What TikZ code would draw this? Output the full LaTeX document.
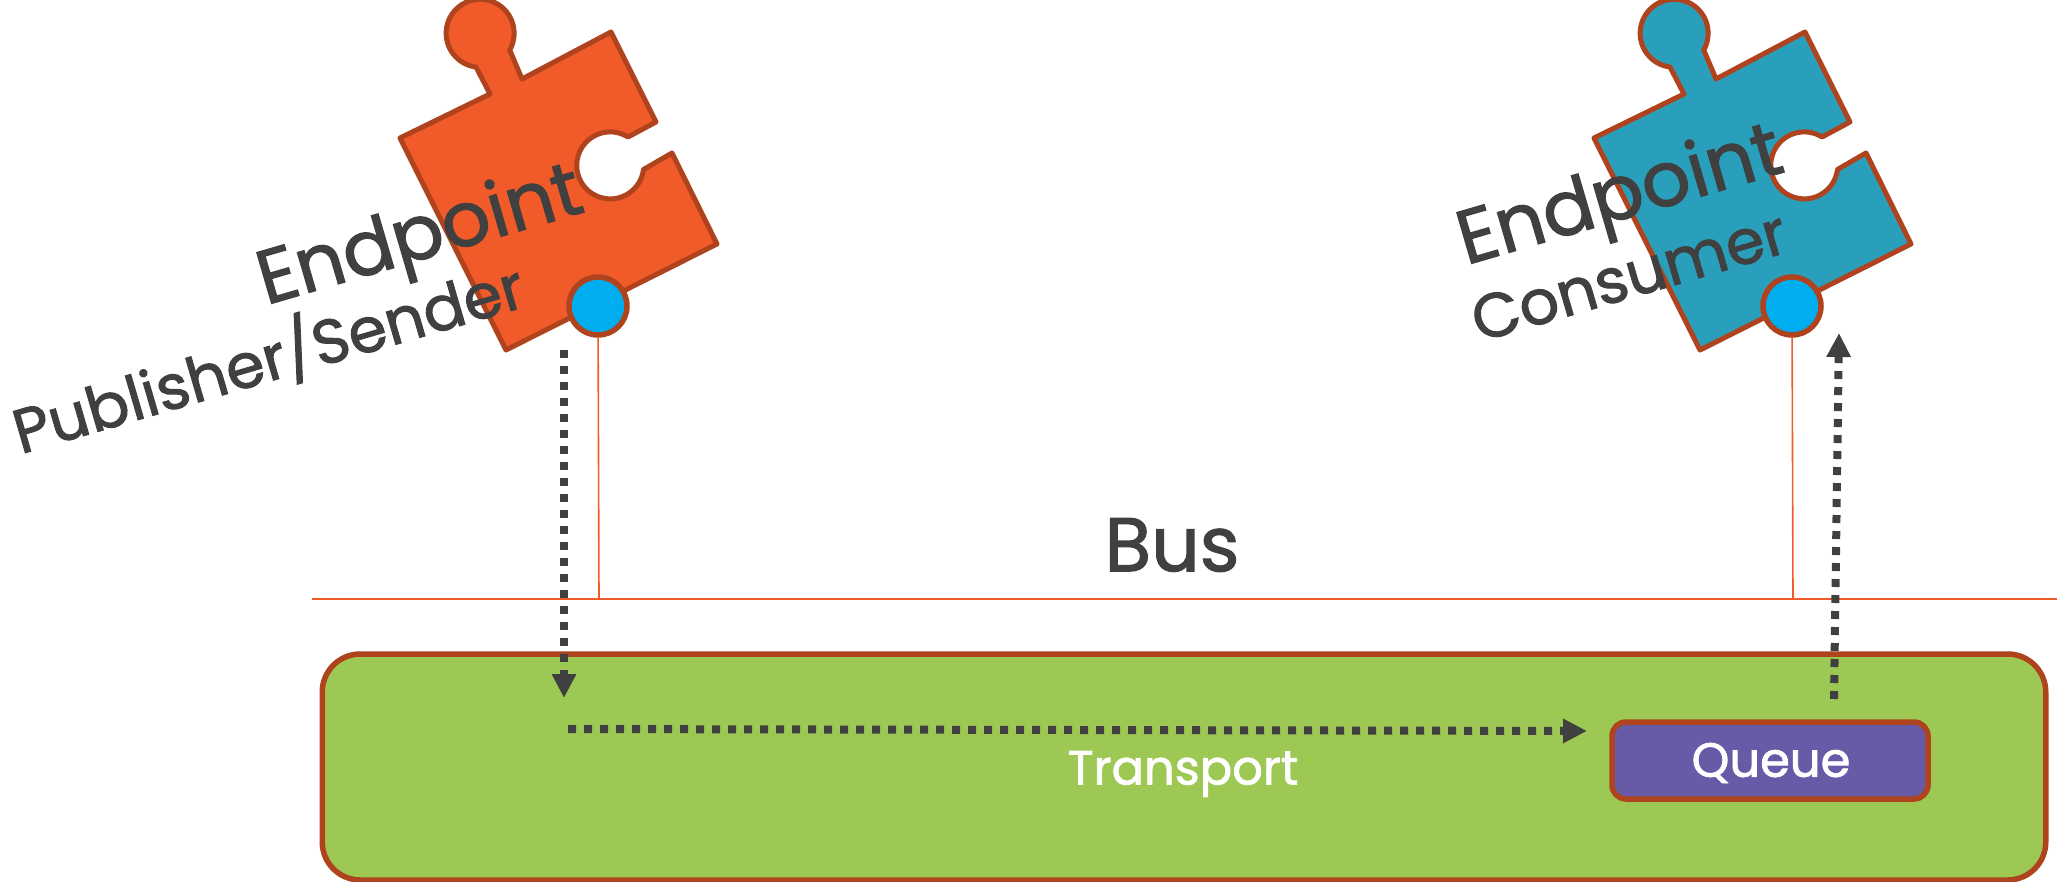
\documentclass[tikz,border=0pt]{standalone}
\usepackage{fontspec}
\usepackage{xcolor}
\usetikzlibrary{arrows.meta,positioning}
\setmainfont{Poppins}[FakeBold=1.6]
\definecolor{rust}{HTML}{AE431E}
\definecolor{senderfill}{HTML}{F15A29}
\definecolor{consumerfill}{HTML}{2A9FBC}
\definecolor{portfill}{HTML}{00AEEF}
\definecolor{transportfill}{HTML}{9DC853}
\definecolor{queuefill}{HTML}{675BA7}
\definecolor{ink}{HTML}{404040}
\newcommand{\puzzlepath}{(400,138) -- (490,94) -- (476,67)
 arc[start angle=97,end angle=389.5,radius=34] -- (522,79) -- (611,32) -- (656,122) -- (628,137)
 arc[start angle=-58,end angle=-353,radius=33.5] -- (672,153) -- (717,244) -- (506,350) -- cycle}
\begin{document}
\begin{tikzpicture}[x=1pt,y=-1pt,
piece/.style={draw=rust,line width=5pt,line join=round},
port/.style={circle,draw=rust,fill=portfill,line width=5.5pt,minimum size=58pt,inner sep=0pt},
box/.style={draw=rust,line width=5.5pt,align=center,text=white},
busline/.style={color=senderfill,line width=1.6pt},
flow/.style={-{Triangle[length=24pt,width=23pt]},color=ink,line width=8pt,dash pattern=on 8pt off 8pt},
bigtext/.style={text=ink,rotate=16.3,inner sep=0pt,font=\fontsize{76}{76}\selectfont},
subtext/.style={text=ink,rotate=16.3,inner sep=0pt,font=\fontsize{62}{62}\selectfont}]
\useasboundingbox (0,0) rectangle (2057,882);
\node[box,fill=transportfill,rounded corners=38pt,minimum width=1723.5pt,minimum height=226pt] (transport) at (1184,767) {};
\node[text=white,font=\fontsize{48}{48}\selectfont,inner sep=0pt] (transportlabel) at (1183,774) {Transport};
\node[box,fill=queuefill,rounded corners=14pt,minimum width=316pt,minimum height=77pt] (queue) at (1770,760.5) {};
\node[text=white,font=\fontsize{48}{48}\selectfont,inner sep=0pt] (queuelabel) at (1771,763) {Queue};
% sender piece
\fill[senderfill] \puzzlepath;
\draw[piece] \puzzlepath;
\node[port] (senderport) at (598,306) {};
\node[bigtext] (senderlabel) at (421,240) {Endpoint};
\node[subtext] (senderrole) at (268,357) {Publisher/Sender};
% consumer piece
\begin{scope}[xshift=1194pt]
\fill[consumerfill] \puzzlepath;
\draw[piece] \puzzlepath;
\end{scope}
\node[port] (consumerport) at (1792,306) {};
\node[bigtext] (consumerlabel) at (1621,200) {Endpoint};
\node[subtext] (consumerrole) at (1629,276) {Consumer};
% bus
\coordinate (busleft) at (312,599);
\coordinate (busright) at (2057,599);
\coordinate (sendertap) at (599,599);
\coordinate (consumertap) at (1793,599);
\node[text=ink,font=\fontsize{76}{76}\selectfont,inner sep=0pt] (buslabel) at (1172,545) {Bus};
\draw[busline] (busleft) -- (busright);
\draw[busline] (senderport) -- (sendertap);
\draw[busline] (consumerport) -- (consumertap);
% message flow
\coordinate (sendstart) at (564,350);
\coordinate (sendend) at (564,698);
\coordinate (hopstart) at (568,729);
\coordinate (hopend) at (1587,731);
\coordinate (takestart) at (1834,699);
\coordinate (takeend) at (1839,333);
\draw[flow] (sendstart) -- (sendend);
\draw[flow] (hopstart) -- (hopend);
\draw[flow] (takestart) -- (takeend);
\end{tikzpicture}
\end{document}
